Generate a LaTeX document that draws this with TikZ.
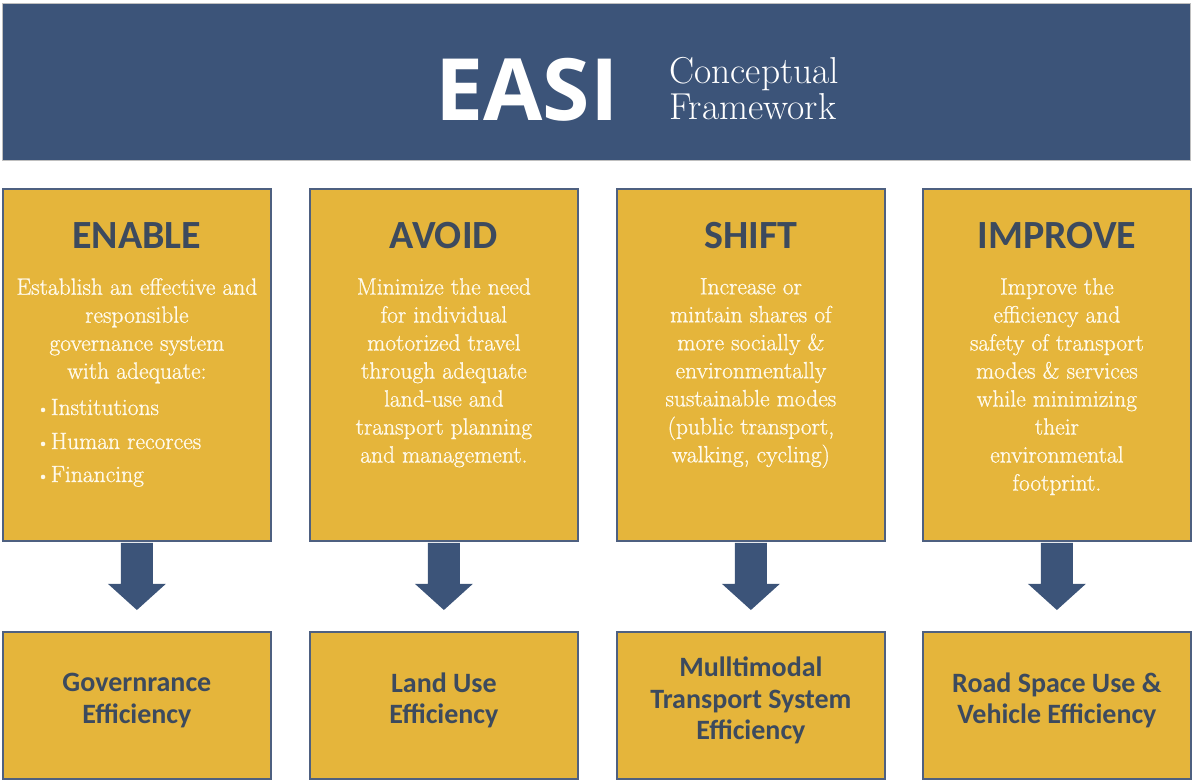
\documentclass[tikz,border=0pt]{standalone}
\usepackage{fontspec}
\usetikzlibrary{calc}
\newfontfamily\carlito{Carlito}
\newfontfamily\opensans{Open Sans}
\newfontface\bodyserif{Latin Modern Roman}[FakeBold=1]
\definecolor{navy}{RGB}{60,84,121}
\definecolor{gold}{RGB}{229,181,59}
\definecolor{boxline}{RGB}{78,96,128}
\definecolor{ink}{RGB}{60,74,94}
\definecolor{cream}{RGB}{255,250,235}
\begin{document}
\begin{tikzpicture}[x=1pt,y=-1pt,
  topbox/.style={draw=boxline, line width=1.8pt, fill=gold, minimum width=268pt, minimum height=352pt, anchor=north west, inner sep=0pt},
  botbox/.style={draw=boxline, line width=1.8pt, fill=gold, minimum width=268pt, minimum height=147pt, anchor=north west, inner sep=0pt},
  ttl/.style={font=\carlito\bfseries\fontsize{40}{42}\selectfont, text=ink, inner sep=0pt},
  body/.style={font=\bodyserif\fontsize{23.5}{28}\selectfont, text=cream, align=center, inner sep=0pt, anchor=north},
  bul/.style={font=\bodyserif\fontsize{23.5}{28}\selectfont, text=cream, inner sep=0pt, anchor=base west},
  bottxt/.style={font=\carlito\bfseries\fontsize{28}{31.5}\selectfont, text=ink, align=center, inner sep=0pt},
  blockarrow/.style={fill=navy}
]
\useasboundingbox (0,0) rectangle (1192,780);
% header
\node[fill=navy, draw=black!25, line width=0.8pt, anchor=north west, minimum width=1188pt, minimum height=157pt, inner sep=0pt] (hdr) at (2,3) {};
\node[anchor=base west, inner sep=0pt, text=white, font=\opensans\bfseries\fontsize{86}{90}\selectfont] (easi) at (435,120) {EASI};
\node[anchor=north west, inner sep=0pt, align=left, text=white, font=\fontsize{37.5}{36}\selectfont] (cf) at (669,57) {Conceptual\\Framework};
% boxes
\node[topbox] (t1) at (2,188) {};
\node[topbox] (t2) at (309,188) {};
\node[topbox] (t3) at (616,188) {};
\node[topbox] (t4) at (922,188) {};
\node[botbox] (b1) at (2,631) {};
\node[botbox] (b2) at (309,631) {};
\node[botbox] (b3) at (616,631) {};
\node[botbox] (b4) at (922,631) {};
% titles
\node[ttl] (h1) at ([yshift=-48pt]t1.north) {ENABLE};
\node[ttl] (h2) at ([yshift=-48pt]t2.north) {AVOID};
\node[ttl] (h3) at ([yshift=-48pt]t3.north) {SHIFT};
\node[ttl] (h4) at ([yshift=-48pt]t4.north) {IMPROVE};
% body texts
\node[body] (x1) at ([yshift=-90pt]t1.north) {Establish an effective and\\responsible\\governance system\\with adequate:};
\node[bul] (e1) at (36,415) {{\fontsize{19}{19}\selectfont\textbullet}\kern1pt Institutions};
\node[bul] (e2) at (36,449) {{\fontsize{19}{19}\selectfont\textbullet}\kern1pt Human recorces};
\node[bul] (e3) at (36,482) {{\fontsize{19}{19}\selectfont\textbullet}\kern1pt Financing};
\node[body] (x2) at ([yshift=-90pt]t2.north) {Minimize the need\\for individual\\motorized travel\\through adequate\\land-use and\\transport planning\\and management.};
\node[body] (x3) at ([yshift=-90pt]t3.north) {Increase or\\mintain shares of\\more socially \&\\environmentally\\sustainable modes\\(public transport,\\walking, cycling)};
\node[body] (x4) at ([yshift=-90pt]t4.north) {Improve the\\efficiency and\\safety of transport\\modes \& services\\while minimizing\\their\\environmental\\footprint.};
% bottom texts
\node[bottxt] (y1) at ([yshift=5pt]b1.center) {Governrance\\Efficiency};
\node[bottxt] (y2) at ([yshift=5pt]b2.center) {Land Use\\Efficiency};
\node[bottxt] (y3) at ([yshift=5pt]b3.center) {Mulltimodal\\Transport System\\Efficiency};
\node[bottxt] (y4) at ([yshift=5pt]b4.center) {Road Space Use \&\\Vehicle Efficiency};
% arrows
\foreach \i in {1,...,4}{
  \fill[blockarrow] ([xshift=-16pt,yshift=-1pt]t\i.south) -- ([xshift=16pt,yshift=-1pt]t\i.south)
    -- ([xshift=16pt,yshift=-42pt]t\i.south) -- ([xshift=29pt,yshift=-42pt]t\i.south)
    -- ([yshift=21pt]b\i.north)
    -- ([xshift=-29pt,yshift=-42pt]t\i.south) -- ([xshift=-16pt,yshift=-42pt]t\i.south) -- cycle;
}
\end{tikzpicture}
\end{document}
